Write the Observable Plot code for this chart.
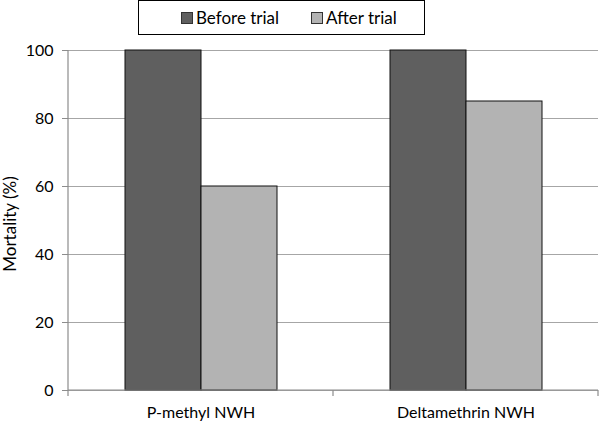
<!DOCTYPE html>
<html>
<head>
<meta charset="utf-8">
<script src="https://cdn.jsdelivr.net/npm/d3@7"></script>
<script src="https://cdn.jsdelivr.net/npm/@observablehq/plot@0.6"></script>
<style>
  html, body { margin: 0; padding: 0; background: #fff; }
  #wrap { position: relative; width: 600px; height: 425px; font-family: Lato, "Open Sans", sans-serif; }
  #legend { position: absolute; left: 138px; top: 0px; width: 285px; height: 33px; border: 1.5px solid #000; background: #fff;
    font-size: 17px; color: #000; z-index: 2; }
  .item { position: absolute; top: 0; height: 33px; display: flex; align-items: center; gap: 3px; white-space: nowrap; }
  .sw { width: 10px; height: 10px; border: 1px solid #333; display: inline-block; }
</style>
</head>
<body>
<div id="wrap"><div id="legend"></div></div>
<script>
const categories = ["P-methyl NWH", "Deltamethrin NWH"];
const series = ["Before trial", "After trial"];
const beforeValues = [100, 100];
const afterValues = [60, 85];
const colors = ["#5f5f5f", "#b3b3b3"];
const yTicks = [0, 20, 40, 60, 80, 100];
const yTitle = "Mortality (%)";

const data = [];
categories.forEach((c, i) => {
  data.push({cat: c, series: series[0], value: beforeValues[i]});
  data.push({cat: c, series: series[1], value: afterValues[i]});
});

const legend = document.getElementById("legend");
const legendLeft = [42, 172];
series.forEach((s, i) => {
  const it = document.createElement("span");
  it.className = "item";
  it.style.left = legendLeft[i] + "px";
  const sw = document.createElement("span");
  sw.className = "sw";
  sw.style.background = colors[i];
  it.appendChild(sw);
  it.appendChild(document.createTextNode(s));
  legend.appendChild(it);
});

const plot = Plot.plot({
  width: 600,
  height: 425,
  marginLeft: 68,
  marginRight: 2,
  marginTop: 50,
  marginBottom: 35,
  style: {fontFamily: "Lato, 'Open Sans', sans-serif", fontSize: "16px", color: "#000", background: "#fff"},
  fx: {domain: categories, padding: 0, axis: "bottom", tickSize: 0, tickPadding: 16, label: null},
  x: {domain: series, paddingInner: 0, paddingOuter: 0.743, axis: null},
  y: {domain: [0, 100], ticks: yTicks, tickSize: 6, tickPadding: 9, label: null, grid: false},
  color: {domain: series, range: colors},
  facet: {data: data, x: "cat"},
  marks: [
    Plot.ruleY(yTicks, {stroke: "#a6a6a6", strokeWidth: 1.2, strokeOpacity: 1}),
    Plot.barY(data, {x: "series", y: "value", fill: "series", stroke: "#111", strokeWidth: 1})
  ]
});
document.getElementById("wrap").appendChild(plot);

// Axis lines, boundary ticks and y title, placed from the plot's own scales
const svg = d3.select(plot);
const fxS = plot.scale("fx");
const yS = plot.scale("y");
const fxBand = d3.scaleBand().domain(fxS.domain).range(fxS.range).padding(0);
const yLin = d3.scaleLinear().domain(yS.domain).range(yS.range);
const g = svg.append("g").attr("stroke", "#8c8c8c").attr("stroke-width", 1.2);
const x0 = fxS.range[0], x1 = fxS.range[1];
g.append("line").attr("x1", x0).attr("x2", x0).attr("y1", yLin(100)).attr("y2", yLin(0));
g.append("line").attr("x1", x0).attr("x2", x1).attr("y1", yLin(0)).attr("y2", yLin(0));
const bounds = fxS.domain.map(d => fxBand(d)).concat([fxBand(fxS.domain[fxS.domain.length - 1]) + fxBand.bandwidth()]);
bounds.forEach(b => g.append("line").attr("x1", b).attr("x2", b).attr("y1", yLin(0)).attr("y2", yLin(0) + 6));
svg.selectAll("[aria-label='y-axis tick'] path, [aria-label='y-axis'] path").attr("stroke", "#8c8c8c");
svg.append("text")
  .attr("transform", `translate(16,${(yLin(0) + yLin(100)) / 2 + 4}) rotate(-90)`)
  .attr("text-anchor", "middle")
  .attr("font-size", 17)
  .attr("fill", "#000")
  .text(yTitle);
</script>
</body>
</html>
